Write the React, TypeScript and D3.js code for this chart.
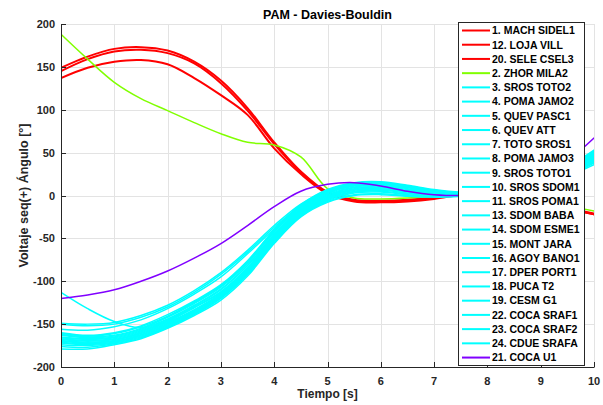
import React from "react";
import * as d3 from "d3";

const time = [0, 0.5, 1, 1.5, 2, 2.5, 3, 3.5, 4, 4.5, 5, 5.5, 6, 6.5, 7, 7.5, 8, 8.5, 9, 9.5, 10];

const xTicks = [0, 1, 2, 3, 4, 5, 6, 7, 8, 9, 10];
const yTicks = [-200, -150, -100, -50, 0, 50, 100, 150, 200];

// red
const machSidel1 = [149, 162, 171, 173, 169, 156, 134, 102, 62, 28, 4, -5, -6, -5, -2, 3, 5, 2, -6, -14, -21];
const lojaVill = [145, 159, 168, 170, 166, 154, 131, 99, 60, 27, 3, -6, -7, -6, -3, 2, 4, 1, -7, -15, -22];
const seleCsel3 = [137, 149, 156, 158, 153, 137, 117, 94, 55, 25, 2, -7, -8, -7, -4, 1, 4, 1, -7, -15, -22];
// green
const zhorMila2 = [188, 159, 132, 113, 99, 85, 72, 62, 59, 45, 8, -3, -4, -3, -1, 3, 4, 0, -6, -12, -18];
// cyan
const srosToto2 = [-113, -132, -147, -154, -141, -124, -105, -77, -41, -12, 6, 14, 15, 11, 6, 3, 3, 7, 17, 32, 52];
const pomaJamo2 = [-149, -150, -148, -140, -128, -111, -90, -64, -35, -10, 6, 13, 14, 10, 5, 2, 2, 6, 15, 30, 50];
const quevPasc1 = [-150, -152, -150, -142, -130, -113, -92, -66, -37, -12, 5, 13, 14, 10, 5, 2, 2, 6, 15, 29, 49];
const quevAtt = [-156, -157, -153, -145, -132, -115, -95, -68, -39, -13, 4, 12, 14, 10, 5, 2, 2, 6, 14, 28, 47];
const totoSros1 = [-160, -163, -160, -152, -139, -123, -104, -76, -40, -11, 7, 15, 16, 12, 7, 4, 4, 8, 18, 33, 53];
const pomaJamo3 = [-161, -164, -161, -153, -141, -125, -106, -78, -42, -13, 5, 14, 15, 11, 6, 3, 3, 7, 17, 32, 51];
const srosToto1 = [-162, -165, -163, -155, -142, -126, -107, -79, -43, -14, 4, 13, 14, 10, 5, 3, 3, 7, 16, 31, 50];
const srosSdom1 = [-163, -166, -164, -156, -144, -128, -109, -81, -45, -15, 3, 12, 13, 9, 5, 2, 2, 6, 16, 30, 49];
const srosPoma1 = [-165, -167, -165, -157, -145, -129, -110, -82, -46, -16, 2, 11, 12, 8, 4, 2, 2, 6, 15, 29, 48];
const sdomBaba = [-166, -168, -166, -158, -146, -130, -112, -84, -47, -17, 1, 10, 11, 7, 3, 1, 2, 5, 14, 28, 46];
const sdomEsme1 = [-167, -169, -167, -159, -147, -131, -113, -85, -48, -18, 0, 9, 10, 6, 3, 1, 1, 5, 14, 27, 45];
const montJara = [-168, -170, -168, -160, -148, -133, -114, -86, -49, -19, -1, 8, 9, 5, 2, 1, 1, 5, 13, 26, 44];
const agoyBano1 = [-169, -171, -169, -161, -149, -134, -115, -87, -50, -20, -2, 7, 8, 5, 2, 0, 1, 4, 13, 26, 43];
const dperPort1 = [-170, -172, -170, -162, -150, -135, -116, -88, -51, -21, -3, 6, 7, 4, 1, 0, 1, 4, 12, 25, 42];
const pucaT2 = [-171, -173, -171, -163, -151, -136, -117, -89, -52, -22, -4, 5, 6, 3, 1, 0, 0, 4, 12, 24, 41];
const cesmG1 = [-172, -174, -171, -164, -152, -137, -118, -90, -53, -22, -5, 4, 5, 2, 0, -1, 0, 4, 11, 24, 40];
const cocaSraf1 = [-174, -175, -172, -165, -153, -138, -119, -91, -54, -23, -6, 3, 4, 1, -1, -1, 0, 3, 11, 23, 39];
const cocaSraf2 = [-176, -177, -173, -166, -154, -139, -120, -92, -55, -24, -7, 1, 2, 0, -1, -1, 0, 3, 10, 22, 38];
const cdueSrafa = [-179, -179, -174, -167, -155, -140, -122, -94, -56, -25, -8, 0, 1, -1, -2, -1, 0, 3, 10, 22, 36];
// purple
const cocaU1 = [-120, -116, -110, -100, -88, -73, -56, -35, -13, 5, 13, 15, 11, 5, 1, 0, 1, 7, 20, 40, 67];

const RED = "#ff0000";
const GREEN = "#80ff00";
const CYAN = "#00ffff";
const PURPLE = "#8000ff";

const seriesNames = [
  "1. MACH SIDEL1", "12. LOJA VILL", "20. SELE CSEL3", "2. ZHOR MILA2",
  "3. SROS TOTO2", "4. POMA JAMO2", "5. QUEV PASC1", "6. QUEV ATT", "7. TOTO SROS1",
  "8. POMA JAMO3", "9. SROS TOTO1", "10. SROS SDOM1", "11. SROS POMA1", "13. SDOM BABA",
  "14. SDOM ESME1", "15. MONT JARA", "16. AGOY BANO1", "17. DPER PORT1", "18. PUCA T2",
  "19. CESM G1", "22. COCA SRAF1", "23. COCA SRAF2", "24. CDUE SRAFA", "21. COCA U1",
];
const seriesValues = [
  machSidel1, lojaVill, seleCsel3, zhorMila2,
  srosToto2, pomaJamo2, quevPasc1, quevAtt, totoSros1,
  pomaJamo3, srosToto1, srosSdom1, srosPoma1, sdomBaba,
  sdomEsme1, montJara, agoyBano1, dperPort1, pucaT2,
  cesmG1, cocaSraf1, cocaSraf2, cdueSrafa, cocaU1,
];
const seriesColors = [
  RED, RED, RED, GREEN,
  CYAN, CYAN, CYAN, CYAN, CYAN, CYAN, CYAN, CYAN, CYAN, CYAN,
  CYAN, CYAN, CYAN, CYAN, CYAN, CYAN, CYAN, CYAN, CYAN, PURPLE,
];

const W = 603;
const H = 405;
const FONT = "'Liberation Sans', Arial, Helvetica, sans-serif";
const AX = "#262626";

export default function App() {
  const x = d3.scaleLinear().domain([0, 10]).range([61, 594]);
  const y = d3.scaleLinear().domain([-200, 200]).range([367, 24]);

  const line = d3
    .line<number>()
    .x((_, i) => x(time[i]))
    .y((d) => y(d))
    .curve(d3.curveCatmullRom.alpha(0.5));

  const widthFor = (c: string) => (c === RED ? 2 : 1.5);

  const legX = 458.5;
  const legY = 22.5;
  const legW = 126;
  const legH = 343;
  const legStep = 14.22;
  const legFirst = 30.5;

  return (
    <svg
      width={W}
      height={H}
      style={{ position: "absolute", left: 0, top: 0, background: "#fff" }}
      fontFamily={FONT}
    >
      <rect x={0} y={0} width={W} height={H} fill="#fff" />
      {/* grid */}
      <g stroke="#e3e3e3" strokeWidth={1}>
        {xTicks.map((t) => (
          <line key={"gx" + t} x1={Math.round(x(t)) + 0.5} x2={Math.round(x(t)) + 0.5} y1={y(200)} y2={y(-200)} />
        ))}
        {yTicks.map((t) => (
          <line key={"gy" + t} y1={Math.round(y(t)) + 0.5} y2={Math.round(y(t)) + 0.5} x1={x(0)} x2={x(10)} />
        ))}
      </g>
      {/* lines */}
      <defs>
        <clipPath id="plotclip">
          <rect x={x(0)} y={y(200)} width={x(10) - x(0)} height={y(-200) - y(200)} />
        </clipPath>
      </defs>
      <g clipPath="url(#plotclip)" fill="none" strokeLinejoin="round" strokeLinecap="round">
        {seriesValues.map((vals, i) => (
          <path key={"s" + i} d={line(vals) || ""} stroke={seriesColors[i]} strokeWidth={widthFor(seriesColors[i])} />
        ))}
      </g>
      {/* axes */}
      <g stroke={AX} strokeWidth={1}>
        <line x1={Math.round(x(0)) + 0.5} x2={Math.round(x(0)) + 0.5} y1={y(200)} y2={y(-200) + 0.5} />
        <line x1={x(0)} x2={x(10) + 0.5} y1={Math.round(y(-200)) + 0.5} y2={Math.round(y(-200)) + 0.5} />
        {xTicks.map((t) => (
          <line key={"tx" + t} x1={Math.round(x(t)) + 0.5} x2={Math.round(x(t)) + 0.5} y1={y(-200)} y2={y(-200) - 5} />
        ))}
        {yTicks.map((t) => (
          <line key={"ty" + t} y1={Math.round(y(t)) + 0.5} y2={Math.round(y(t)) + 0.5} x1={x(0)} x2={x(0) + 5} />
        ))}
      </g>
      <g fill={AX} fontSize={11} fontWeight="bold">
        {xTicks.map((t) => (
          <text key={"lx" + t} x={x(t)} y={385} textAnchor="middle">
            {t}
          </text>
        ))}
        {yTicks.map((t) => (
          <text key={"ly" + t} x={55} y={y(t) + 4} textAnchor="end">
            {t}
          </text>
        ))}
      </g>
      <text x={(x(0) + x(10)) / 2} y={18.5} textAnchor="middle" fontSize={12.5} fontWeight="bold" fill="#000">
        PAM - Davies-Bouldin
      </text>
      <text x={(x(0) + x(10)) / 2} y={398} textAnchor="middle" fontSize={12} fontWeight="bold" fill={AX}>
        Tiempo [s]
      </text>
      <text
        transform={`translate(28, ${(y(200) + y(-200)) / 2}) rotate(-90)`}
        textAnchor="middle"
        fontSize={12.5}
        fontWeight="bold"
        fill={AX}
      >
        Voltaje seq(+) Ángulo [°]
      </text>
      {/* legend */}
      <rect x={legX} y={legY} width={legW} height={legH} fill="#fff" stroke={AX} strokeWidth={1} />
      {seriesNames.map((name, i) => {
        const cy = legFirst + i * legStep;
        return (
          <g key={"lg" + i}>
            <line x1={462} x2={490} y1={cy} y2={cy} stroke={seriesColors[i]} strokeWidth={2} />
            <text x={492} y={cy + 3.8} fontSize={10.5} fontWeight="bold" fill="#000">
              {name}
            </text>
          </g>
        );
      })}
    </svg>
  );
}
